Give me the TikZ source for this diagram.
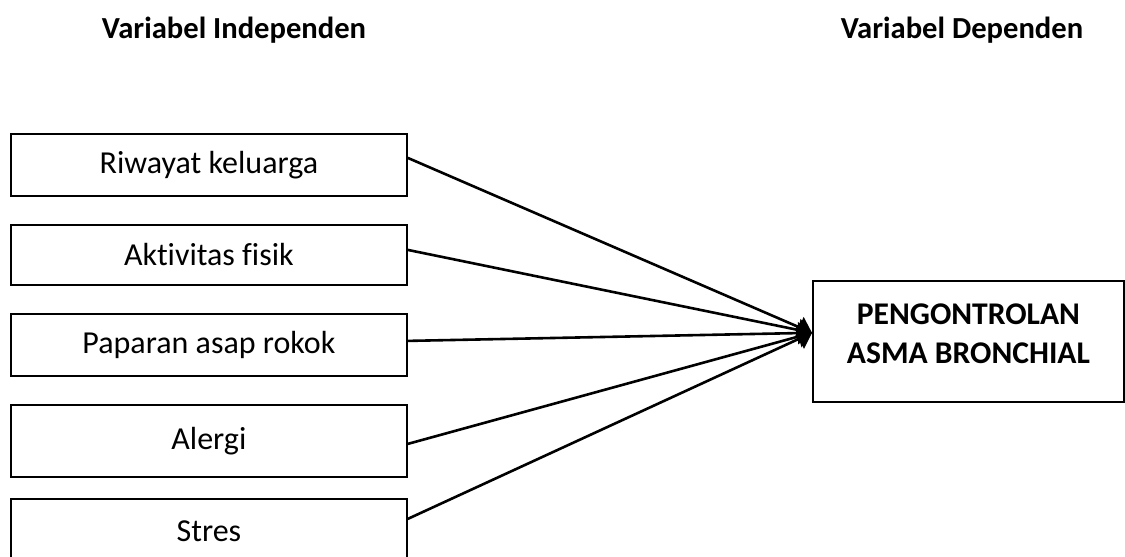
\documentclass[tikz,border=0pt]{standalone}
\usepackage{fontspec}
\setmainfont{Carlito}[Ligatures=NoCommon]
\usetikzlibrary{arrows.meta,calc}

\begin{document}
\begin{tikzpicture}[x=0.5pt,y=-0.5pt,
    kotak/.style={draw, line width=0.9pt, minimum width=198pt, minimum height=31pt,
      inner sep=0pt, font=\fontsize{16}{19}\selectfont},
    judul/.style={font=\bfseries\fontsize{15.3}{18}\selectfont},
    panah/.style={line width=1.3pt, -{Triangle[length=7pt,width=11pt]}}]
  \useasboundingbox (0,0) rectangle (1125,557);

  % judul kolom
  \node[judul] (indep) at (234,30) {Variabel Independen};
  \node[judul] (depen) at (962,30) {Variabel Dependen};

  % variabel independen
  \node[kotak, anchor=north west] (riwayat) at (10,133) {Riwayat keluarga};
  \node[kotak, anchor=north west, minimum height=30pt] (aktivitas) at (10,224) {Aktivitas fisik};
  \node[kotak, anchor=north west] (paparan) at (10,313) {Paparan asap rokok};
  \node[kotak, anchor=north west, minimum height=36pt] (alergi) at (10,404) {Alergi};
  \node[kotak, anchor=north west, minimum height=32pt] (stres) at (10,498) {Stres};

  % variabel dependen
  \node[draw, line width=0.9pt, anchor=north west, minimum width=155.5pt,
    minimum height=60.5pt] (kontrol) at (812,280) {};
  \node[align=center, font=\bfseries\fontsize{15.8}{19.5}\selectfont] (kontroltxt)
    at ($(kontrol.center)+(0,-8)$) {PENGONTROLAN\\ASMA BRONCHIAL};
  \coordinate (ujung) at ($(kontrol.north west)!0.43!(kontrol.south west)$);

  \foreach \n/\d in {riwayat/-7, aktivitas/-5, paparan/-4, alergi/3, stres/-12}
    \draw[panah] ($(\n.east)+(0,\d)$) -- (ujung);
\end{tikzpicture}
\end{document}
